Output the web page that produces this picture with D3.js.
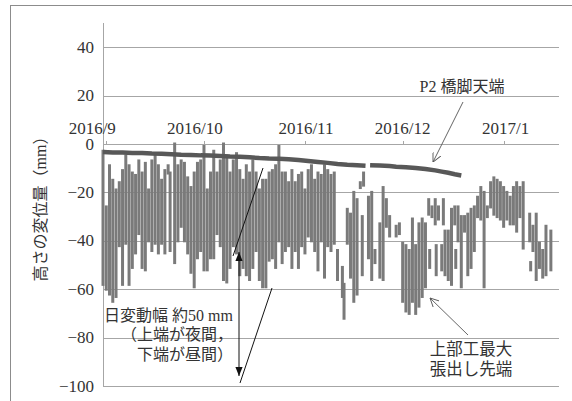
<!DOCTYPE html>
<html><head><meta charset="utf-8">
<script src="https://cdn.jsdelivr.net/npm/d3@7"></script>
<style>
body{margin:0;background:#fff}
svg{display:block}
</style>
</head><body>
<svg id="chart" width="572" height="401"></svg>
<script>
// ---------- data ----------
const monthTicks  = ["2016-09-01","2016-10-01","2016-11-01","2016-12-01","2017-01-01"];
const monthLabels = ["2016/9","2016/10","2016/11","2016/12","2017/1"];
const yTicks = [40,20,0,-20,-40,-60,-80,-100];

// P2 橋脚天端 : day offset from 2016-08-31, displacement (mm); null = gap
const p2Day = [0,3,6,9,12,15,18,21,24,27,30,33,36,39,42,45,48,51,54,57,60,63,66,69,72,75,78,80.6,81.4,82,85,88,90,93,96,99,102,104,106,108,110];
const p2Val = [-3.3,-3.5,-3.5,-3.7,-3.7,-3.9,-4.0,-4.2,-4.4,-4.5,-4.7,-4.8,-5.0,-5.2,-5.3,-5.5,-5.8,-6.0,-6.1,-6.3,-6.6,-7.0,-7.4,-7.8,-8.3,-8.6,-8.8,-9.0,null,-8.8,-8.9,-9.1,-9.4,-9.6,-9.9,-10.3,-10.9,-11.4,-11.9,-12.5,-13.0];

// 上部工最大張出し先端 : daily range (night top / day bottom), day offset from 2016-08-31
const tipDay = [0,1,2,3,4,5,6,7,8,9,10,11,12,13,14,15,16,17,18,19,20,20.6,
  22,23,24,25,26,27,28,29,30,31,32,33,34,35,36,37,38,39,40,41,42,43,44,45,46,47,48,49,50,
  51,52,53,54,55,56,57,58,59,60,61,62,63,64,65,66,67,68,69,70,71,72,
  73.5,74,75,76,77,78,79,79.6,80,81.5,82.5,83.5,85,86,87,88,
  90,91,92,93,94,95,96,97,98,99,100,100.3,101,102,102.3,103,104,104.5,
  105,106,107,108,108.3,109,110,111,112,113,114,115,116,117,118,119,120,121,122,123,124,125,126,127,128,129,
  131,131.3,132,133,134,135,136,137.5];
const tipTop = [-3,-26,-9,-15,-19,-16,-11,-5,-9,-12,-13,-7,-12,-8,-19,-7,-5,-9,-15,-11,-9,-12,
  0,-9,-7,-8,-14,-18,-12,-8,-7,-1,-19,-12,-3,-12,-7,0,-5,-12,-7,-4,-11,-15,-9,-12,-7,-12,-19,-15,-15,
  -12,-11,-9,-1,-12,-12,-16,-11,-16,-13,-12,-19,-11,-9,-15,-12,-13,-9,-11,-13,-12,-44,
  -51,-58,-27,-29,-20,-23,-16,-30,-12,-22,-20,-44,-33,-18,-23,-30,
  -34,-33,-41,-42,-44,-31,-42,-33,-31,-33,-23,-44,-26,-23,-42,-26,-42,-23,
  -36,-36,-27,-26,-44,-26,-30,-30,-29,-27,-26,-22,-18,-20,-26,-16,-14,-15,-16,-18,-20,-22,-18,-16,-18,-16,
  -29,-49,-34,-29,-41,-44,-34,-36];
const tipBottom = [-58,-60,-62,-65,-63,-42,-58,-41,-58,-51,-45,-37,-51,-52,-40,-44,-41,-45,-41,-45,-12,-44,
  -49,-40,-34,-40,-45,-53,-59,-47,-44,-52,-52,-47,-47,-37,-42,-56,-57,-51,-42,-45,-54,-51,-54,-56,-51,-44,-56,-59,-59,
  -48,-47,-51,-40,-49,-44,-42,-51,-44,-51,-42,-45,-38,-40,-44,-52,-40,-55,-42,-44,-41,-56,
  -63,-72,-41,-55,-65,-62,-18,-54,-17,-47,-56,-49,-55,-56,-34,-38,
  -38,-37,-65,-69,-70,-65,-70,-67,-63,-59,-29,-51,-30,-33,-54,-31,-52,-33,
  -54,-56,-58,-33,-51,-40,-59,-36,-54,-51,-44,-30,-31,-59,-30,-26,-29,-30,-31,-34,-31,-33,-33,-36,-30,-43,
  -40,-52,-44,-56,-51,-55,-54,-52];

// ---------- layout ----------
const FONT = "'Liberation Serif', 'Noto Sans CJK JP', serif";
const svg = d3.select("#chart").attr("font-family", FONT);
const W = 572, H = 401;
const margin = {left:103, right:13, top:23, bottom:15};
const base = new Date(2016, 7, 31);
const dayToDate = d => new Date(base.getTime() + d*86400000);

const x = d3.scaleTime()
  .domain([new Date(2016,7,31), new Date(2017,0,18)])
  .range([margin.left, W - margin.right]);
const y = d3.scaleLinear().domain([-100, 50]).range([H - margin.bottom, margin.top]);

svg.append("rect").attr("width",W).attr("height",H).attr("fill","#fff");
svg.append("rect").attr("x",10.5).attr("y",5.5).attr("width",700).attr("height",600)
  .attr("fill","none").attr("stroke","#8c8c8c").attr("stroke-width",1);

// gridlines
svg.append("g").selectAll("line").data(yTicks).join("line")
  .attr("x1", margin.left).attr("x2", W - margin.right)
  .attr("y1", d => Math.round(y(d)) + 0.5).attr("y2", d => Math.round(y(d)) + 0.5)
  .attr("stroke","#a6a6a6").attr("stroke-width",1);

// y axis line
svg.append("line").attr("x1",margin.left+0.5).attr("x2",margin.left+0.5)
  .attr("y1",y(50)).attr("y2",y(-100)).attr("stroke","#a6a6a6");

// y tick labels
svg.append("g").selectAll("text").data(yTicks).join("text")
  .attr("x", 94).attr("y", d => y(d)).attr("dy","0.33em")
  .attr("text-anchor","end").attr("font-size",17).attr("fill","#333")
  .text(d => d < 0 ? "\u2212" + Math.abs(d) : d);

// x ticks at the 0 line
const mDates = monthTicks.map(s => new Date(s + "T00:00:00"));
svg.append("g").selectAll("line").data(mDates).join("line")
  .attr("x1", d => Math.round(x(d)) + 0.5).attr("x2", d => Math.round(x(d)) + 0.5)
  .attr("y1", y(0) - 3).attr("y2", y(0) + 1)
  .attr("stroke","#a6a6a6");
const labelShift = [-14, -9, 1, 0, 2];
svg.append("g").selectAll("text").data(mDates).join("text")
  .attr("x", (d,i) => x(d) + labelShift[i]).attr("y", y(0) - 10)
  .attr("text-anchor","middle").attr("font-size",17).attr("fill","#333")
  .text((d,i) => monthLabels[i]);

// y axis title
svg.append("text")
  .attr("transform","translate(46,205) rotate(-90)")
  .attr("text-anchor","middle").attr("font-size",16).attr("fill","#333")
  .text("高さの変位量（mm）");

// ---------- series 2: girder tip daily ranges ----------
const n = Math.min(tipDay.length, tipTop.length, tipBottom.length);
const tip = d3.range(n).map(i => ({d: dayToDate(tipDay[i]), top: tipTop[i], bot: tipBottom[i]}));
svg.append("g").selectAll("line").data(tip).join("line")
  .attr("x1", d => x(d.d)).attr("x2", d => x(d.d))
  .attr("y1", d => y(d.top)).attr("y2", d => y(d.bot))
  .attr("stroke","#7a7a7a").attr("stroke-width",3).attr("stroke-linecap","square");

// ---------- series 1: P2 pier top ----------
const p2 = p2Day.map((d,i) => ({d: dayToDate(d), v: p2Val[i]}));
svg.append("path").datum(p2)
  .attr("d", d3.line().defined(d => d.v !== null).x(d => x(d.d)).y(d => y(d.v)))
  .attr("fill","none").attr("stroke","#585858").attr("stroke-width",4.5);

// ---------- annotations ----------
const defs = svg.append("defs");
defs.append("marker").attr("id","open").attr("viewBox","0 0 10 10").attr("refX",10).attr("refY",5)
  .attr("markerWidth",9).attr("markerHeight",9).attr("markerUnits","userSpaceOnUse").attr("orient","auto")
  .append("path").attr("d","M0,0 L10,5 L0,10").attr("fill","none").attr("stroke","#555").attr("stroke-width",1);
defs.append("marker").attr("id","solid").attr("viewBox","0 0 10 10").attr("refX",10).attr("refY",5)
  .attr("markerWidth",9).attr("markerHeight",9).attr("markerUnits","userSpaceOnUse").attr("orient","auto-start-reverse")
  .append("path").attr("d","M0,1 L10,5 L0,9 Z").attr("fill","#111");

const ann = svg.append("g").attr("fill","#333");
ann.append("text").attr("x",462).attr("y",92).attr("text-anchor","middle").attr("font-size",16).text("P2 橋脚天端");
ann.append("line").attr("x1",463).attr("y1",102).attr("x2",433).attr("y2",162)
  .attr("stroke","#555").attr("stroke-width",0.9).attr("marker-end","url(#open)");

ann.append("text").attr("x",471).attr("y",355).attr("text-anchor","middle").attr("font-size",16.5).text("上部工最大");
ann.append("text").attr("x",471).attr("y",375).attr("text-anchor","middle").attr("font-size",16.5).text("張出し先端");
ann.append("line").attr("x1",468).attr("y1",335).attr("x2",430).attr("y2",298)
  .attr("stroke","#555").attr("stroke-width",0.9).attr("marker-end","url(#open)");

ann.append("text").attr("x",233).attr("y",321).attr("text-anchor","end").attr("font-size",16).text("日変動幅 約50 mm");
ann.append("text").attr("x",233).attr("y",340).attr("text-anchor","end").attr("font-size",16).text("（上端が夜間，");
ann.append("text").attr("x",233).attr("y",360).attr("text-anchor","end").attr("font-size",16).text("下端が昼間）");

ann.append("line").attr("x1",239).attr("y1",252).attr("x2",239).attr("y2",376)
  .attr("stroke","#111").attr("stroke-width",1)
  .attr("marker-start","url(#solid)").attr("marker-end","url(#solid)");
ann.append("line").attr("x1",233).attr("y1",256).attr("x2",263).attr("y2",168).attr("stroke","#111").attr("stroke-width",1);
ann.append("line").attr("x1",240).attr("y1",383).attr("x2",272).attr("y2",288).attr("stroke","#111").attr("stroke-width",1);
</script>
</body></html>
